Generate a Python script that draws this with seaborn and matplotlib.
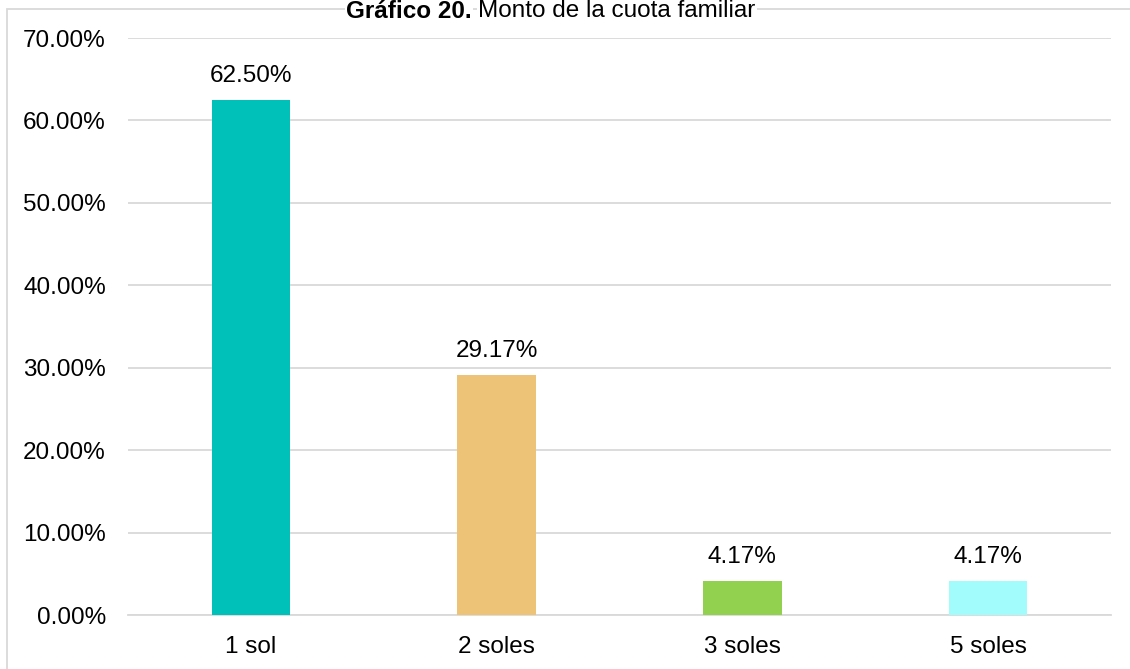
import matplotlib
matplotlib.use("Agg")
import matplotlib.pyplot as plt
from matplotlib.patches import Rectangle
from matplotlib.ticker import FuncFormatter
import seaborn as sns
import pandas as pd

categories = ["1 sol", "2 soles", "3 soles", "5 soles"]
percentages = [62.50, 29.17, 4.17, 4.17]
bar_colors = ["#00C0BA", "#EDC377", "#92D050", "#A3FCFC"]
y_ticks = [0, 10, 20, 30, 40, 50, 60, 70]

sns.set_theme(style="white")
plt.rcParams["font.family"] = ["Liberation Sans", "DejaVu Sans"]

W, H = 1130, 669
FS = 17.5
fig = plt.figure(figsize=(W / 100, H / 100), dpi=100)

# outer chart frame (top and left edges visible)
fig.add_artist(Rectangle((7 / W, -0.05), 1.2, 1 - 9 / H + 0.05,
                         transform=fig.transFigure, fill=False,
                         edgecolor="#D9D9D9", linewidth=1.3, zorder=1))

left, right, top, bottom = 128, 1111, 38, 615
ax = fig.add_axes([left / W, 1 - bottom / H, (right - left) / W, (bottom - top) / H])

df = pd.DataFrame({"cat": categories, "pct": percentages})
sns.barplot(data=df, x="cat", y="pct", hue="cat", palette=bar_colors,
            legend=False, width=0.32, saturation=1, linewidth=0,
            ax=ax, zorder=3)

ax.set_ylim(0, 70)
ax.set_yticks(y_ticks)
ax.yaxis.set_major_formatter(FuncFormatter(lambda v, _: f"{v:.2f}%"))
ax.grid(axis="y", color="#D9D9D9", linewidth=1.3, zorder=0)
ax.set_axisbelow(True)
for side in ["top", "right", "left"]:
    ax.spines[side].set_visible(False)
ax.spines["bottom"].set_color("#D9D9D9")
ax.spines["bottom"].set_linewidth(1.3)
ax.set_xlabel("")
ax.set_ylabel("")
ax.tick_params(axis="both", length=0, labelsize=FS, colors="#000000")
ax.tick_params(axis="y", pad=16)
ax.tick_params(axis="x", pad=15)

for i, v in enumerate(percentages):
    ax.annotate(f"{v:.2f}%", (i, v), xytext=(0, 9), textcoords="offset points",
                ha="center", va="bottom", fontsize=FS, color="#000000")

# title at the top edge, on a white band over the frame line
ty = 1 - 11 / H
title_box = dict(facecolor="white", edgecolor="none", pad=1)
fig.text(472 / W, ty, "Gráfico 20.", ha="right", va="center", zorder=5,
         fontsize=FS, fontweight="bold", color="#000000", bbox=title_box)
fig.text(478 / W, ty, "Monto de la cuota familiar", ha="left", va="center",
         zorder=5, fontsize=FS, color="#000000", bbox=title_box)

fig.savefig("out.png", dpi=100)
